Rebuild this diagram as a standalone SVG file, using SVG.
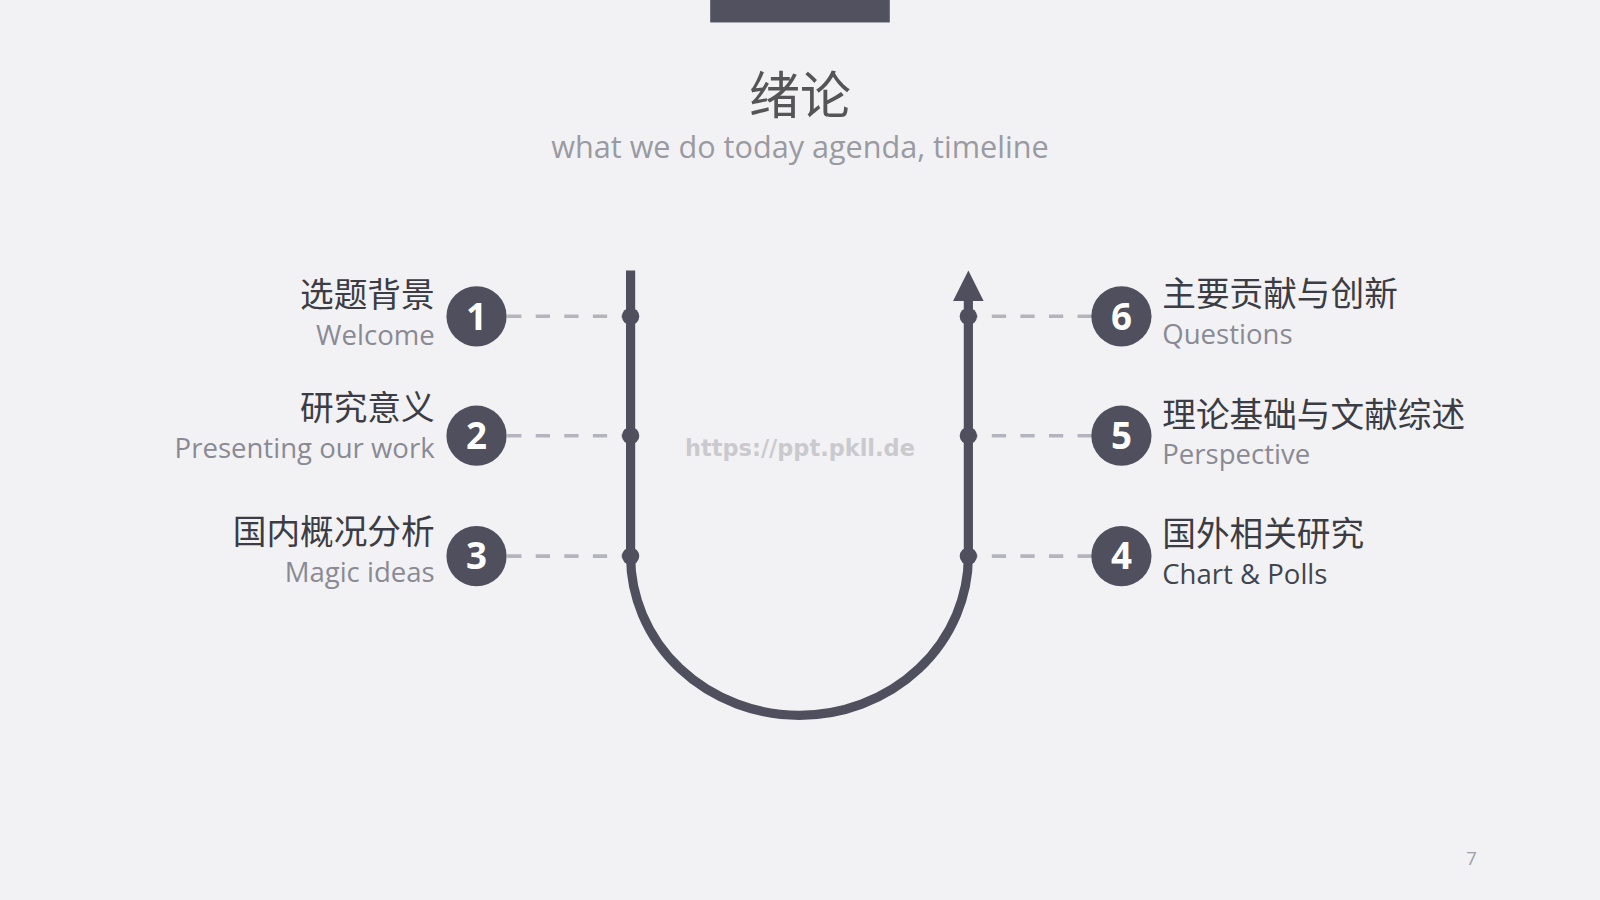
<svg xmlns="http://www.w3.org/2000/svg" width="1600" height="900" viewBox="0 0 1600 900">
<defs>
<style>
.cn{font-family:"Noto Sans CJK SC","Noto Sans",sans-serif;}
.en{font-family:"Open Sans","Noto Sans",sans-serif;}
.head{font-size:33px;fill:#3c3c44;}
.sub{font-size:27px;fill:#8a8a94;}
.dash{stroke:#b4b4bc;stroke-width:3.5;stroke-dasharray:14 14;fill:none;}
.dot{fill:#4f4f5e;}
.badge{fill:#4f4f5e;}
.num{font-family:"Open Sans","Noto Sans",sans-serif;font-weight:700;font-size:36px;fill:#ffffff;text-anchor:middle;}
</style>
</defs>
<rect width="1600" height="900" fill="#f2f2f4"/>
<g transform="scale(1.0204)">
<rect x="696" y="0" width="176" height="22" fill="#515160"/>
<text class="cn" x="784" y="112" font-size="50" fill="#555558" text-anchor="middle">绪论</text>
<text class="en" x="784" y="155" font-size="30" fill="#9a9aa2" text-anchor="middle">what we do today agenda, timeline</text>
<text x="784" y="447" font-family="DejaVu Sans, sans-serif" font-weight="700" font-size="22" fill="#cacace" text-anchor="middle">https://ppt.pkll.de</text>

<g id="connectors">
<path d="M618,265 L618,545 A165.5,156 0 0 0 949,545 L949,292" fill="none" stroke="#4f4f5e" stroke-width="9"/>
<polygon points="949,265 964,295 934,295" fill="#4f4f5e"/>
<line class="dash" x1="497" y1="310" x2="618" y2="310"/>
<line class="dash" x1="497" y1="427" x2="618" y2="427"/>
<line class="dash" x1="497" y1="545" x2="618" y2="545"/>
<line class="dash" x1="1070" y1="310" x2="949" y2="310"/>
<line class="dash" x1="1070" y1="427" x2="949" y2="427"/>
<line class="dash" x1="1070" y1="545" x2="949" y2="545"/>
<circle class="dot" cx="618" cy="310" r="8.5"/>
<circle class="dot" cx="618" cy="427" r="8.5"/>
<circle class="dot" cx="618" cy="545" r="8.5"/>
<circle class="dot" cx="949" cy="310" r="8.5"/>
<circle class="dot" cx="949" cy="427" r="8.5"/>
<circle class="dot" cx="949" cy="545" r="8.5"/>
</g>

<g id="node1">
<circle class="badge" cx="467" cy="310" r="29.5"/>
<text class="num" x="467" y="323">1</text>
<text class="cn head" x="426" y="301" text-anchor="end">选题背景</text>
<text class="en sub" x="426" y="338" text-anchor="end">Welcome</text>
</g>
<g id="node2">
<circle class="badge" cx="467" cy="427" r="29.5"/>
<text class="num" x="467" y="440">2</text>
<text class="cn head" x="426" y="412" text-anchor="end">研究意义</text>
<text class="en sub" x="426" y="449" text-anchor="end">Presenting our work</text>
</g>
<g id="node3">
<circle class="badge" cx="467" cy="545" r="29.5"/>
<text class="num" x="467" y="558">3</text>
<text class="cn head" x="426" y="533" text-anchor="end">国内概况分析</text>
<text class="en sub" x="426" y="570" text-anchor="end">Magic ideas</text>
</g>
<g id="node6">
<circle class="badge" cx="1099" cy="310" r="29.5"/>
<text class="num" x="1099" y="323">6</text>
<text class="cn head" x="1139" y="300">主要贡献与创新</text>
<text class="en sub" x="1139" y="337">Questions</text>
</g>
<g id="node5">
<circle class="badge" cx="1099" cy="427" r="29.5"/>
<text class="num" x="1099" y="440">5</text>
<text class="cn head" x="1139" y="418">理论基础与文献综述</text>
<text class="en sub" x="1139" y="455">Perspective</text>
</g>
<g id="node4">
<circle class="badge" cx="1099" cy="545" r="29.5"/>
<text class="num" x="1099" y="558">4</text>
<text class="cn head" x="1139" y="535">国外相关研究</text>
<text class="en sub" x="1139" y="572" style="fill:#44444c">Chart &amp; Polls</text>
</g>
<text class="en" x="1442" y="848" font-size="18" fill="#a0a0a8" text-anchor="middle">7</text>
</g>
</svg>
